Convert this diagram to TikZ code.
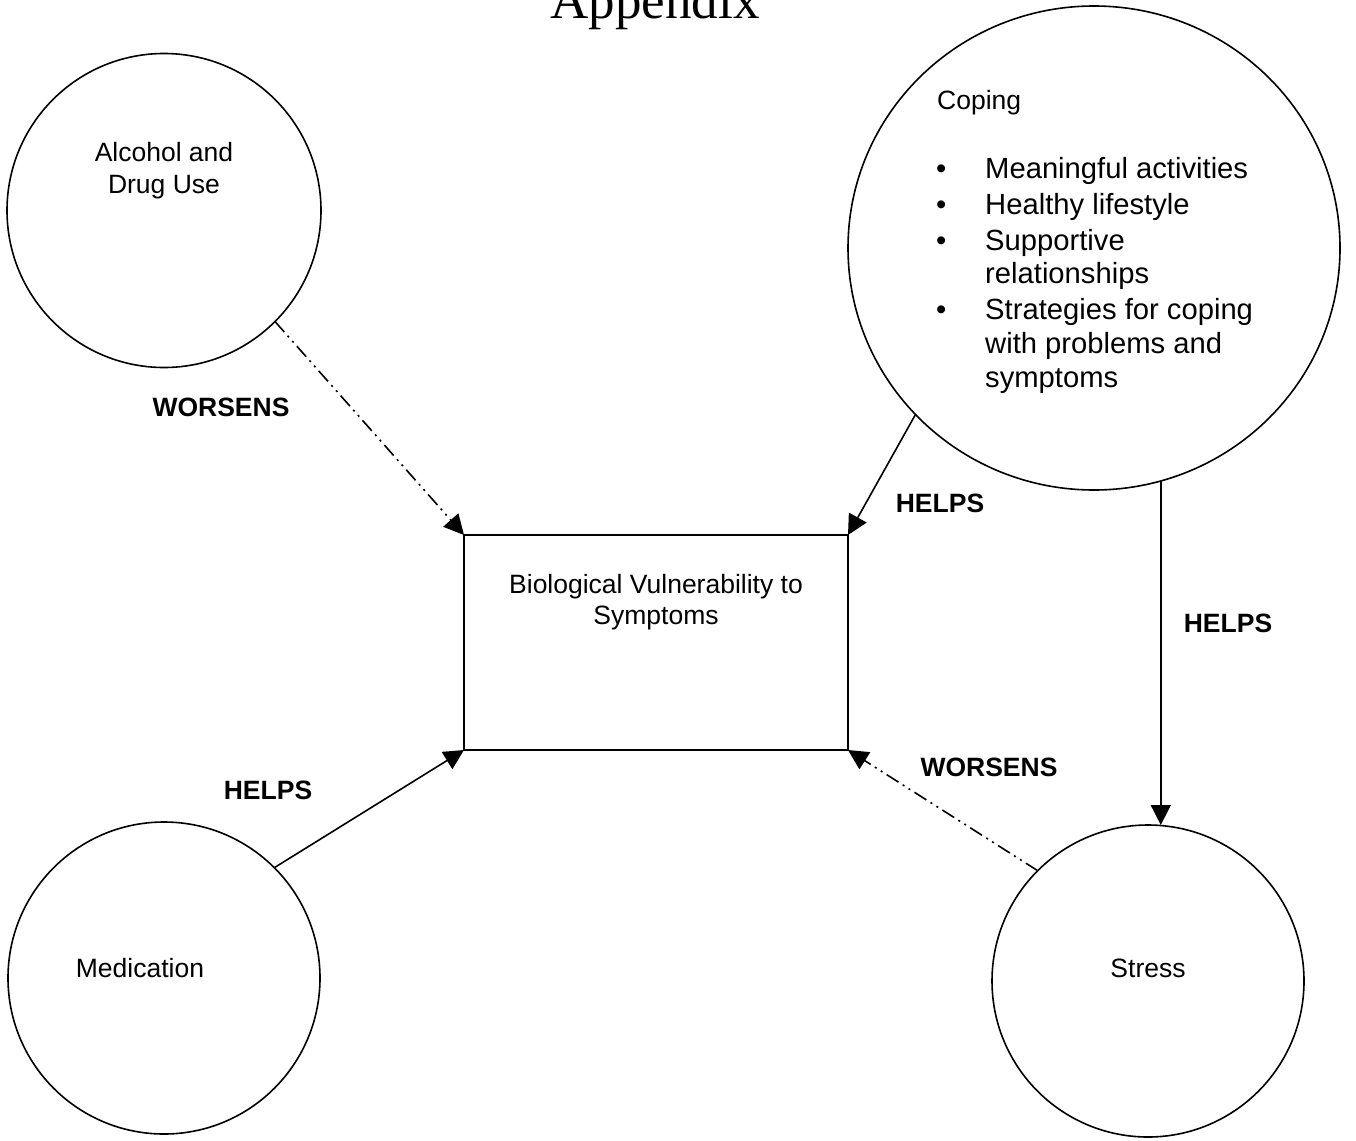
\documentclass[tikz,border=0pt]{standalone}
\usepackage{fontspec}
\setmainfont{Liberation Sans}
\newfontfamily\titlefont{Liberation Serif}
\usetikzlibrary{arrows.meta,shapes.geometric}
\begin{document}
\begin{tikzpicture}[x=1pt,y=-1pt,
  circ/.style={circle,draw,line width=1.6pt,inner sep=0pt,outer sep=0pt},
  ell/.style={ellipse,draw,line width=1.6pt,inner sep=0pt,outer sep=0pt},
  boxnode/.style={rectangle,draw,line width=1.6pt,inner sep=0pt,outer sep=0pt},
  txt/.style={inner sep=0pt,anchor=base,font=\fontsize{26.5}{31}\selectfont},
  bigtxt/.style={inner sep=0pt,anchor=base west,font=\fontsize{29.2}{34}\selectfont},
  verb/.style={inner sep=0pt,anchor=base,font=\fontsize{26.5}{31}\selectfont\bfseries},
  conn/.style={line width=1.6pt,-{Triangle[length=20pt,width=20pt]}},
  dashdd/.style={dash pattern=on 14pt off 5pt on 2pt off 5pt on 2pt off 5pt}
]
\useasboundingbox[fill=white] (0,0) rectangle (1356,1140);

% title (cut off by the page top, as in the original)
\node[inner sep=0pt,anchor=base,font=\titlefont\fontsize{53}{60}\selectfont] (title) at (655,19) {Appendix};

% shapes
\node[circ,minimum size=314pt] (alc) at (164,210.5) {};
\node[circ,minimum size=312pt] (med) at (164,978) {};
\node[circ,minimum size=312pt] (str) at (1148,981) {};
\node[ell,minimum width=492pt,minimum height=484pt] (cop) at (1094,248) {};
\node[boxnode,minimum width=384pt,minimum height=215pt] (bio) at (656,642.5) {};

% texts
\node[txt] (alc1) at (164,161) {Alcohol and};
\node[txt] (alc2) at (164,193) {Drug Use};
\node[txt] (bio1) at (656,593) {Biological Vulnerability to};
\node[txt] (bio2) at (656,624) {Symptoms};
\node[txt] (medt) at (140,977) {Medication};
\node[txt] (strt) at (1148,977) {Stress};
\node[txt,anchor=base west] (copt) at (937,109) {Coping};

\node[bigtxt] (b1) at (936,178) {•};
\node[bigtxt] (l1) at (985,178) {Meaningful activities};
\node[bigtxt] (b2) at (936,214) {•};
\node[bigtxt] (l2) at (985,214) {Healthy lifestyle};
\node[bigtxt] (b3) at (936,250) {•};
\node[bigtxt] (l3) at (985,250) {Supportive};
\node[bigtxt] (l4) at (985,283) {relationships};
\node[bigtxt] (b5) at (936,319) {•};
\node[bigtxt] (l5) at (985,319) {Strategies for coping};
\node[bigtxt] (l6) at (985,353) {with problems and};
\node[bigtxt] (l7) at (985,387) {symptoms};

% connector labels
\node[verb] (w1) at (221,416) {WORSENS};
\node[verb] (h1) at (940,512) {HELPS};
\node[verb] (h2) at (1228,632) {HELPS};
\node[verb] (w2) at (989,776) {WORSENS};
\node[verb] (h3) at (268,799) {HELPS};

% connectors
\draw[conn,dashdd] (alc.-45) -- (bio.north west);
\draw[conn] (cop.223.7) -- (bio.north east);
\coordinate (copbot) at (cop.286.6);
\draw[conn] (copbot) -- (copbot |- str.north);
\draw[conn,dashdd] (str.135) -- (bio.south east);
\draw[conn] (med.45) -- (bio.south west);
\end{tikzpicture}
\end{document}
